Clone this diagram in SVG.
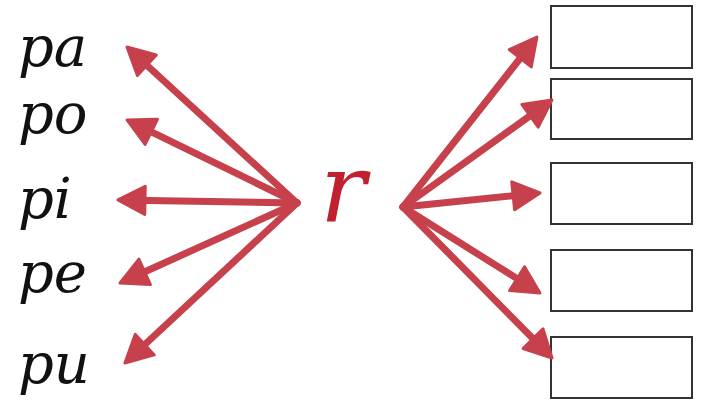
<svg xmlns="http://www.w3.org/2000/svg" width="704" height="410" viewBox="0 0 704 410">
<style>
.syl{font-family:"DejaVu Serif","Liberation Serif",serif;font-style:italic;font-size:56px;fill:#111}
.box{fill:#fff;stroke:#333;stroke-width:2}
.arr{stroke:#c6414b;stroke-width:7;fill:none;stroke-linecap:round}
.r{font-family:"DejaVu Serif","Liberation Serif",serif;font-style:italic;font-size:96px;fill:#c1202e}
</style>
<defs>
<marker id="ah" markerUnits="userSpaceOnUse" markerWidth="32" markerHeight="32" refX="13" refY="14" orient="auto" overflow="visible">
<path d="M0,0 L27,14 L0,28 z" fill="#c6414b" stroke="#c6414b" stroke-width="3" stroke-linejoin="round"/>
</marker>
</defs>
<rect width="704" height="410" fill="#fff"/>
<g id="syllables">
<g id="pa"><text class="syl" x="18" y="66">pa</text></g>
<g id="po"><text class="syl" x="18" y="133">po</text></g>
<g id="pi"><text class="syl" x="18" y="218">pi</text></g>
<g id="pe"><text class="syl" x="18" y="292">pe</text></g>
<g id="pu"><text class="syl" x="18" y="383">pu</text></g>
</g>
<g id="center"><text class="r" x="320" y="222">r</text></g>
<g id="boxes">
<g id="box1"><rect class="box" x="551" y="6" width="141" height="62"/></g>
<g id="box2"><rect class="box" x="551" y="79" width="141" height="60"/></g>
<g id="box3"><rect class="box" x="551" y="163" width="141" height="61"/></g>
<g id="box4"><rect class="box" x="551" y="250" width="141" height="61"/></g>
<g id="box5"><rect class="box" x="551" y="337" width="141" height="61"/></g>
</g>
<g id="connectors">
<path class="arr" d="M297,203 L137.3,56.5" marker-end="url(#ah)"/>
<path class="arr" d="M297,203 L139.6,126.1" marker-end="url(#ah)"/>
<path class="arr" d="M297,203 L132,200.2" marker-end="url(#ah)"/>
<path class="arr" d="M297,203 L132.8,277.2" marker-end="url(#ah)"/>
<path class="arr" d="M297,203 L135.2,353.5" marker-end="url(#ah)"/>
<path class="arr" d="M403,207 L528.3,48" marker-end="url(#ah)"/>
<path class="arr" d="M403,207 L540.6,108.2" marker-end="url(#ah)"/>
<path class="arr" d="M403,207 L526.1,194.4" marker-end="url(#ah)"/>
<path class="arr" d="M403,207 L528.1,285.6" marker-end="url(#ah)"/>
<path class="arr" d="M403,207 L542.2,348" marker-end="url(#ah)"/>
</g>
</svg>
